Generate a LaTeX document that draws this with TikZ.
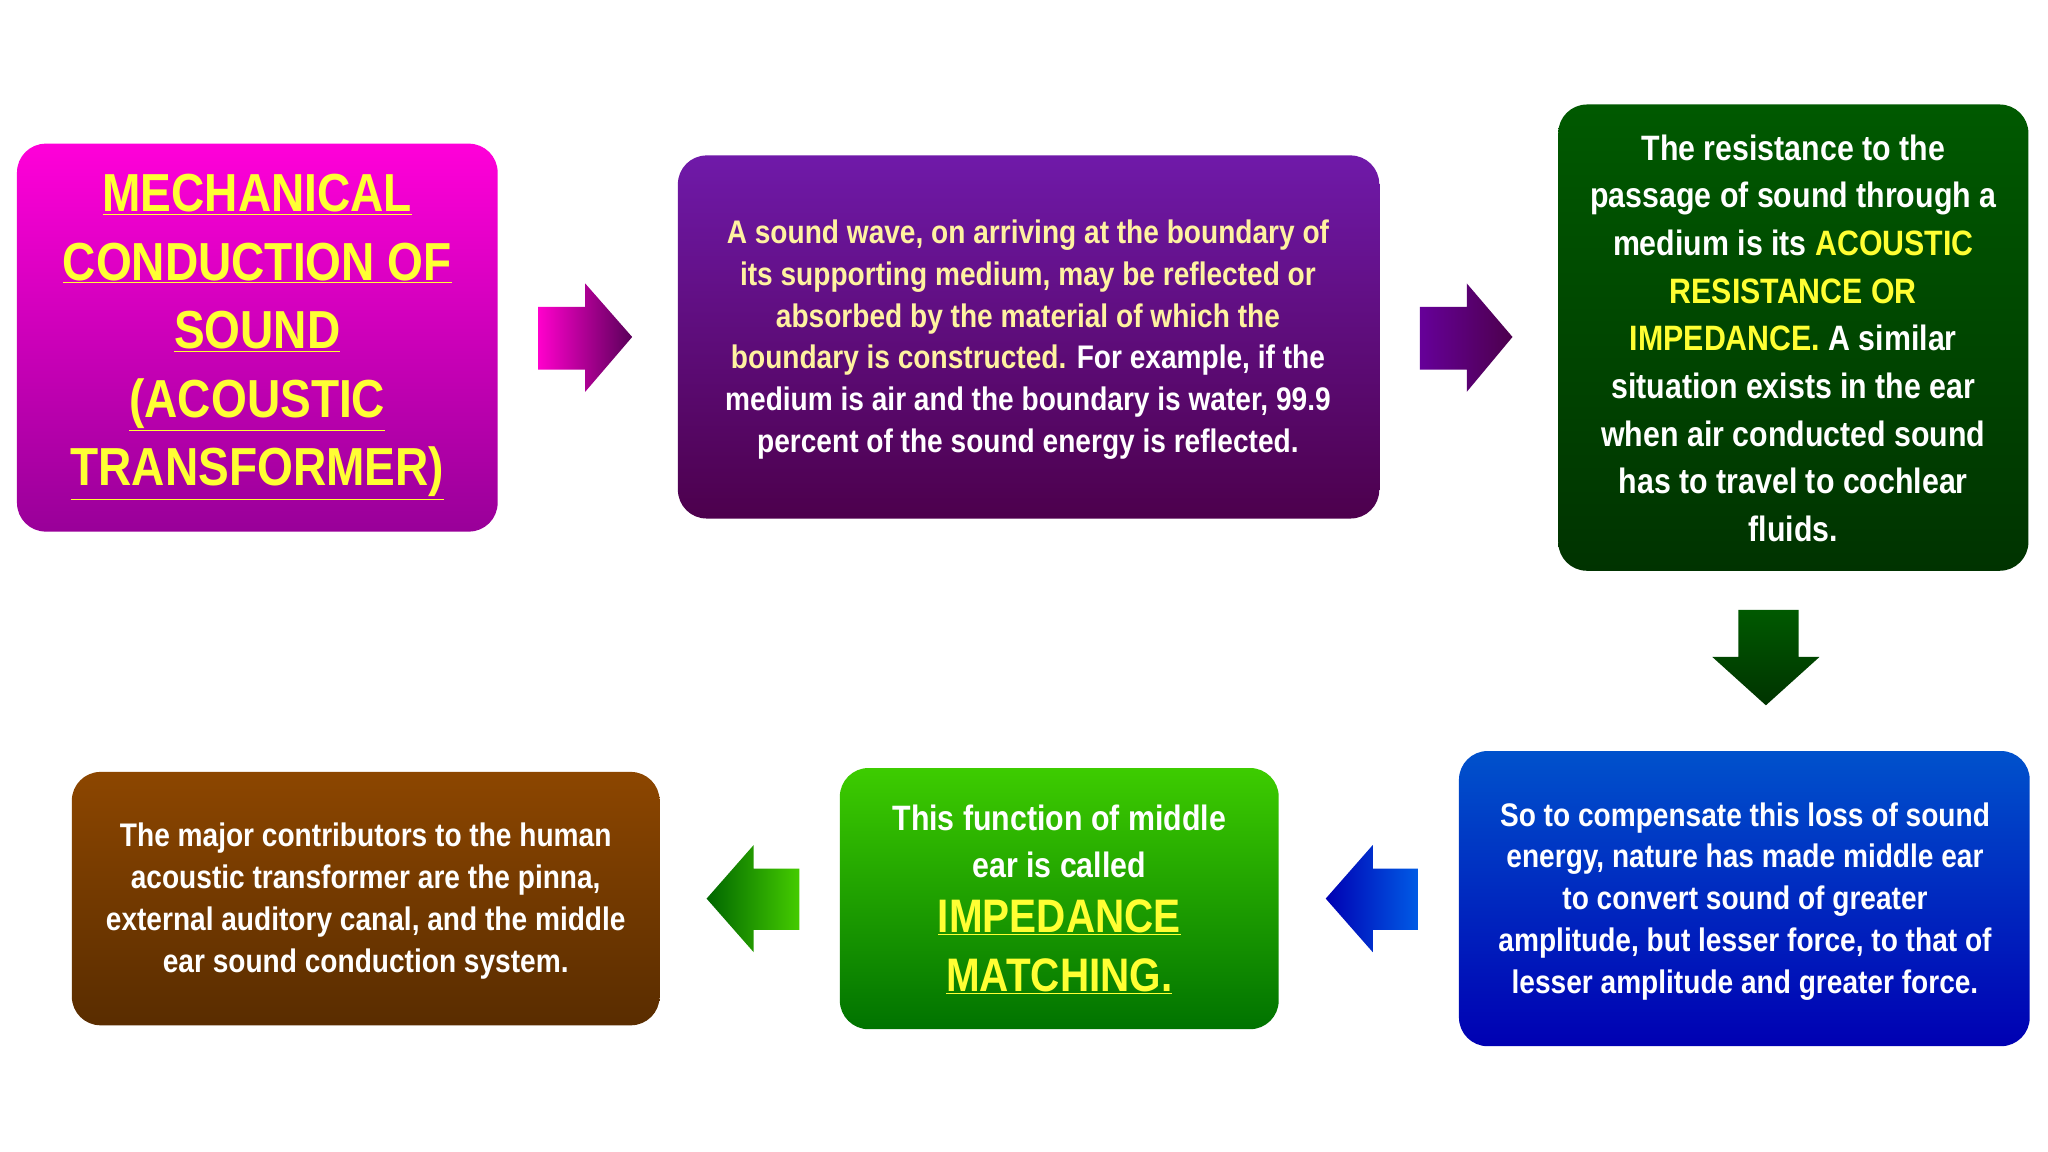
\documentclass[tikz,border=0pt]{standalone}
\usepackage{fontspec}
\setmainfont{Liberation Sans}[FakeStretch=0.86]
\usetikzlibrary{shapes.arrows}
\definecolor{yl}{HTML}{FFFF33}
\definecolor{ly}{HTML}{FFF2A0}
\tikzset{
 box/.style={rounded corners=22pt, draw=none},
 txt/.style={align=center, text=white, font=\bfseries\fontsize{25}{32}\selectfont, inner sep=0pt},
}
\begin{document}
\begin{tikzpicture}[x=1pt,y=-1pt]
\useasboundingbox (0,0) rectangle (1568,882);
\fill[white] (0,0) rectangle (1568,882);
% boxes
\shade[box, top color=magenta!85!red, bottom color=magenta!60!black] (13,110) rectangle (381,407);
\node[txt, text=yl, font=\bfseries\fontsize{41}{52.5}\selectfont] (b1) at (197,258)
 {\underline{MECHANICAL}\\\underline{CONDUCTION OF}\\\underline{SOUND}\\\underline{(ACOUSTIC}\\\underline{TRANSFORMER)}};
\shade[box, top color=violet!75!blue!90!white, bottom color=violet!60!black] (519,119) rectangle (1056,397);
\node[txt] (b2) at (787,260) {\textcolor{ly}{A sound wave, on arriving at the boundary of}\\\textcolor{ly}{its supporting medium, may be reflected or}\\\textcolor{ly}{absorbed by the material of which the}\\\textcolor{ly}{boundary is constructed.} For example, if the\\medium is air and the boundary is water, 99.9\\percent of the sound energy is reflected.};
\shade[box, top color=green!35!black, bottom color=green!20!black] (1193,80) rectangle (1553,437);
\node[txt, font=\bfseries\fontsize{27}{36.5}\selectfont] (b3) at (1373,259) {The resistance to the\\passage of sound through a\\medium is its \textcolor{yl}{ACOUSTIC}\\\textcolor{yl}{RESISTANCE OR}\\\textcolor{yl}{IMPEDANCE.} A similar\\situation exists in the ear\\when air conducted sound\\has to travel to cochlear\\fluids.};
\shade[box, top color=blue!60!cyan!80!black, bottom color=blue!70!black] (1117,575) rectangle (1554,801);
\node[txt] (b4) at (1336,690) {So to compensate this loss of sound\\energy, nature has made middle ear\\to convert sound of greater\\amplitude, but lesser force, to that of\\lesser amplitude and greater force.};
\shade[box, top color=green!60!lime!80!black, bottom color=green!45!black] (643,588) rectangle (979,788);
\node[txt, font=\bfseries\fontsize{27}{36}\selectfont] (b5a) at (811,644) {This function of middle\\ear is called};
\node[txt, text=yl, font=\bfseries\fontsize{36}{45}\selectfont] (b5b) at (811,725) {\underline{IMPEDANCE}\\\underline{MATCHING.}};
\shade[box, top color=orange!55!black, bottom color=orange!35!black] (55,591) rectangle (505,785);
\node[txt] (b6) at (280,690) {The major contributors to the human\\acoustic transformer are the pinna,\\external auditory canal, and the middle\\ear sound conduction system.};
% arrows
\shade[left color=magenta!80!red, right color=violet!70!black] (412,235) -- (448,235) -- (448,217) -- (484,258) -- (448,300) -- (448,283) -- (412,283) -- cycle;
\shade[left color=violet!80!blue, right color=violet!60!black] (1087,235) -- (1123,235) -- (1123,217) -- (1158,258) -- (1123,300) -- (1123,283) -- (1087,283) -- cycle;
\shade[top color=green!35!black, bottom color=green!20!black] (1331,467) -- (1377,467) -- (1377,503) -- (1393,503) -- (1352,540) -- (1311,503) -- (1327,503) -- (1331,503) -- cycle;
\shade[right color=blue!60!cyan!90!black, left color=blue!70!black] (1086,665) -- (1051,665) -- (1051,647) -- (1015,688) -- (1051,729) -- (1051,712) -- (1086,712) -- cycle;
\shade[right color=green!55!lime!80!black, left color=green!40!black] (612,665) -- (577,665) -- (577,647) -- (541,688) -- (577,729) -- (577,712) -- (612,712) -- cycle;
\end{tikzpicture}
\end{document}
